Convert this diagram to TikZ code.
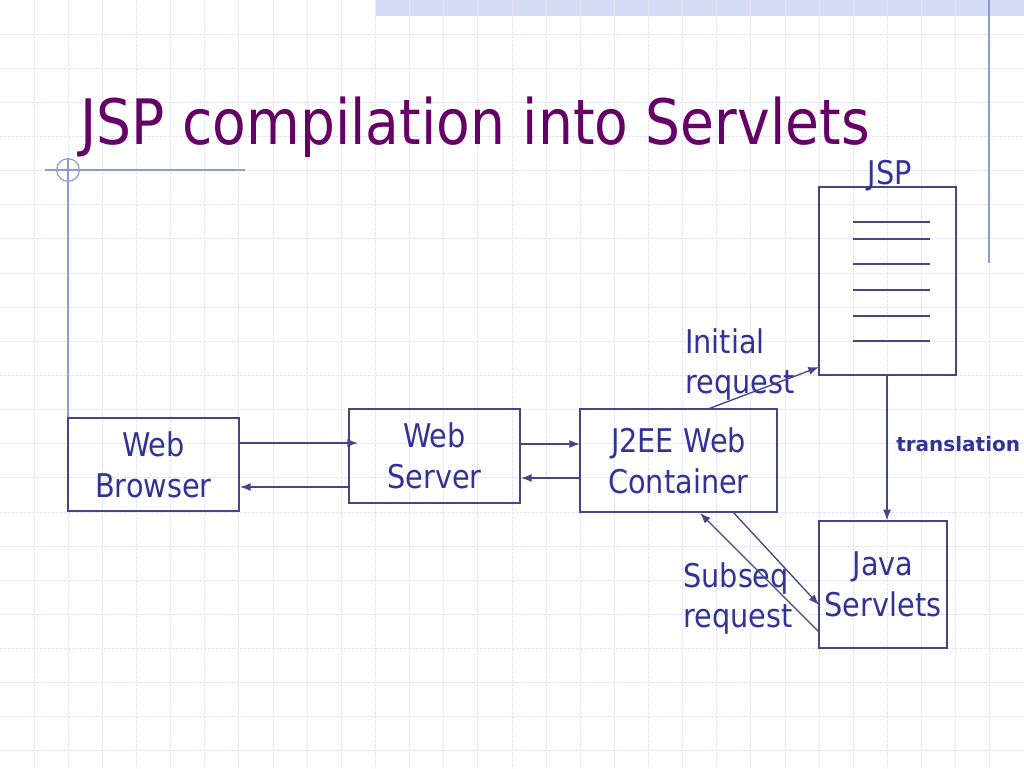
\documentclass[tikz,border=0pt]{standalone}
\usepackage{fontspec}
\setmainfont{DejaVu Sans}[FakeStretch=0.88]
\newfontfamily\plainfont{DejaVu Sans}
\usetikzlibrary{arrows.meta}
\definecolor{txt}{RGB}{51,51,150}
\definecolor{ln}{RGB}{70,70,135}
\definecolor{titlec}{RGB}{102,0,102}
\definecolor{gridc}{RGB}{226,229,246}
\definecolor{barc}{RGB}{212,221,245}
\definecolor{deco}{RGB}{140,155,215}
\tikzset{
  gridline/.style={draw=gridc, line width=0.7pt, dash pattern=on 2pt off 1pt},
  decoline/.style={draw=deco, line width=0.9pt},
  boxnode/.style={draw=ln, line width=1pt, inner sep=0pt, align=center, text=txt,
    font=\fontsize{24.5}{30.5}\selectfont},
  lbl/.style={inner sep=0pt, align=left, text=txt, font=\fontsize{24.5}{30.5}\selectfont},
  conn/.style={draw=ln, line width=1pt, -{Latex[length=8pt,width=6pt]}},
  plainln/.style={draw=ln, line width=0.9pt}
}
\begin{document}
\begin{tikzpicture}[x=0.75pt,y=-0.75pt]
\useasboundingbox (0,0) rectangle (1024,768);
\fill[white] (0,0) rectangle (1024,768);
\fill[barc] (376,0) rectangle (1024,16);
\foreach \i in {1,...,29} \draw[gridline] (\i*34.133,0) -- (\i*34.133,768);
\foreach \j in {1,...,22} \draw[gridline] (0,\j*34.133) -- (1024,\j*34.133);
% decorations
\draw[decoline] (989,0) -- (989,263);
\draw[decoline] (45,170) -- (245,170);
\draw[decoline] (68,170) circle[radius=8.5pt];
\draw[decoline] (68,158) -- (68,418);
% title
\node[anchor=base west, inner sep=0pt, text=titlec, font=\fontsize{47}{56}\selectfont] (title) at (80,144) {JSP compilation into Servlets};
% boxes
\node[boxnode, minimum width=128.25pt, minimum height=69.75pt] (browser) at (153.5,464.5) {Web\\Browser};
\node[boxnode, minimum width=128.25pt, minimum height=70.5pt] (server) at (434.5,456) {Web\\Server};
\node[boxnode, minimum width=147.75pt, minimum height=77.25pt] (j2ee) at (678.5,460.5) {J2EE Web\\Container};
\node[draw=ln, line width=1pt, minimum width=102.75pt, minimum height=141pt, inner sep=0pt] (jsp) at (887.5,281) {};
\node[boxnode, minimum width=96pt, minimum height=95.25pt] (servlets) at (883,584.5) {Java\\Servlets};
% JSP page lines
\foreach \yy in {222,239,264,290,316,341} \draw[plainln] (853,\yy) -- (930,\yy);
% labels
\node[anchor=base, inner sep=0pt, text=txt, font=\fontsize{24.5}{30.5}\selectfont] (jsplbl) at (890,184) {JSP};
\node[anchor=base west, inner sep=0pt, text=txt, font=\plainfont\bfseries\fontsize{15}{18}\selectfont] (translbl) at (896,451) {translation};
\node[lbl, anchor=north west] (initlbl) at (685,328) {Initial\\request};
\node[lbl, anchor=north west] (subslbl) at (683,562) {Subseq\\request};
% connectors
\coordinate (b1) at (239,443); \coordinate (s1) at (358,443);
\draw[conn] (b1) -- (s1);
\coordinate (s2) at (349,487); \coordinate (b2) at (240,487);
\draw[conn] (s2) -- (b2);
\coordinate (s3) at (520,444); \coordinate (j3) at (580,444);
\draw[conn] (s3) -- (j3);
\coordinate (j4) at (580,478); \coordinate (s4) at (521,478);
\draw[conn] (j4) -- (s4);
\coordinate (j5) at (708,409); \coordinate (p5) at (819,367);
\draw[conn] (j5) -- (p5);
\draw[conn] (jsp.south -| 887,0) -- (servlets.north -| 887,0);
\coordinate (j6) at (733,512); \coordinate (v6) at (819,605);
\draw[conn] (j6) -- (v6);
\coordinate (v7) at (819,632); \coordinate (j7) at (700,513);
\draw[conn] (v7) -- (j7);
\end{tikzpicture}
\end{document}
